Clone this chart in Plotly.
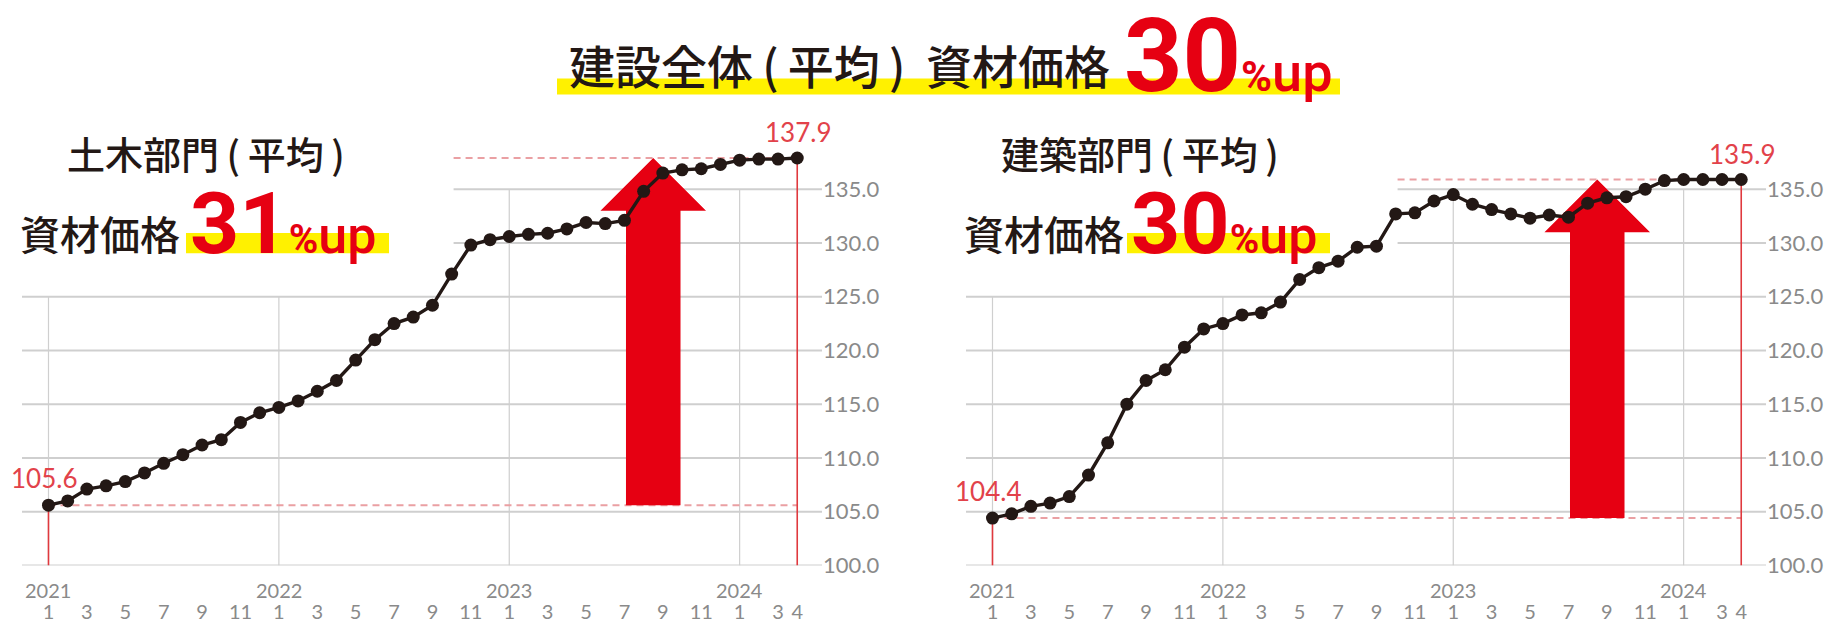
import plotly.graph_objects as go

# ---------------- data ----------------
month_index = list(range(40))  # 2021-01 ... 2024-04
civil_values = [105.6, 106.0, 107.1, 107.4, 107.8, 108.6, 109.5, 110.3, 111.2, 111.7, 113.3, 114.2,
                114.7, 115.3, 116.2, 117.2, 119.1, 121.0, 122.5, 123.1, 124.2, 127.1, 129.8, 130.3,
                130.6, 130.8, 130.9, 131.3, 131.9, 131.8, 132.1, 134.8, 136.5, 136.8, 136.9, 137.3,
                137.7, 137.8, 137.8, 137.9]
building_values = [104.4, 104.8, 105.5, 105.8, 106.4, 108.4, 111.4, 115.0, 117.2, 118.2, 120.3, 122.0,
                   122.5, 123.3, 123.5, 124.5, 126.6, 127.7, 128.3, 129.6, 129.7, 132.7, 132.8, 133.9,
                   134.5, 133.6, 133.1, 132.7, 132.3, 132.6, 132.4, 133.7, 134.2, 134.3, 135.0, 135.8,
                   135.9, 135.9, 135.9, 135.9]
month_tick_idx = [0, 2, 4, 6, 8, 10, 12, 14, 16, 18, 20, 22, 24, 26, 28, 30, 32, 34, 36, 38, 39]
month_tick_text = ["1", "3", "5", "7", "9", "11", "1", "3", "5", "7", "9", "11",
                   "1", "3", "5", "7", "9", "11", "1", "3", "4"]
year_idx = [0, 12, 24, 36]
year_text = ["2021", "2022", "2023", "2024"]
y_tick_vals = [100, 105, 110, 115, 120, 125, 130, 135]
y_tick_text = ["100.0", "105.0", "110.0", "115.0", "120.0", "125.0", "130.0", "135.0"]

title_main = "建設全体\u2009(\u2009平均\u2009)&nbsp;&nbsp;資材価格"
title_pct = "30"
civil_title = "土木部門\u2009(\u2009平均\u2009)"
civil_pct = "31"
building_title = "建築部門\u2009(\u2009平均\u2009)"
building_pct = "30"
label_price = "資材価格"

# ---------------- style ----------------
W = 1847
REF_H = 623     # height of the target picture (positions below are given in its pixels)
FIG_H = 639     # layout height: the page photo is squeezed from 639 to 623 px
BLACK = "#231815"
RED = "#e60012"
RED_LINE = "#e0393e"
RED_TEXT = "#e2424a"
DASH = "#eaa0a3"
GRID = "#cfcfcf"
GRAY = "#8a8a8a"
YELLOW = "#fff100"
NUM_FONT = "Lato"
CJK = "Noto Sans CJK JP"
BIG = "Roboto"

XMIN, XMAX = -1.38, 40.29
YMIN, YMAX = 100, 142


def PX(x):
    return x / W


def PY(y):
    return 1 - y / REF_H


fig = go.Figure()
shapes = []
annotations = []


def panel(values, xa, ya, xdom, arrow_center=31.5):
    xref, yref = xa, ya
    axis_key = "xaxis" + xa[1:]
    yaxis_key = "yaxis" + ya[1:]
    for v in y_tick_vals:
        x0 = XMIN if v <= 125 else 21.1
        shapes.append(dict(type="line", xref=xref, yref=yref, x0=x0, x1=XMAX, y0=v, y1=v,
                           line=dict(color=GRID, width=2), layer="below"))
    for i in year_idx:
        top = 125 if i < 24 else 135
        shapes.append(dict(type="line", xref=xref, yref=yref, x0=i, x1=i, y0=YMIN, y1=top,
                           line=dict(color=GRID, width=1.2), layer="below"))
    first, last = values[0], values[-1]
    i0, i1 = month_index[0], month_index[-1]
    shapes.append(dict(type="line", xref=xref, yref=yref, x0=i0, x1=i1, y0=first, y1=first,
                       line=dict(color=DASH, width=2, dash="7px,5px"), layer="below"))
    shapes.append(dict(type="line", xref=xref, yref=yref, x0=21.1, x1=i1, y0=last, y1=last,
                       line=dict(color=DASH, width=2, dash="7px,5px"), layer="below"))
    shapes.append(dict(type="line", xref=xref, yref=yref, x0=i0, x1=i0, y0=YMIN, y1=first,
                       line=dict(color=RED_LINE, width=1.6), layer="below"))
    shapes.append(dict(type="line", xref=xref, yref=yref, x0=i1, x1=i1, y0=YMIN, y1=last,
                       line=dict(color=RED_LINE, width=1.6), layer="below"))
    c, sw, hw, hh = arrow_center, 1.42, 2.75, 4.9
    ax = [c - sw, c + sw, c + sw, c + hw, c, c - hw, c - sw, c - sw]
    ay = [first, first, last - hh, last - hh, last, last - hh, last - hh, first]
    fig.add_trace(go.Scatter(x=ax, y=ay, mode="lines", fill="toself", fillcolor=RED,
                             line=dict(width=0, color=RED), xaxis=xa, yaxis=ya,
                             hoverinfo="skip", showlegend=False))
    fig.add_trace(go.Scatter(x=month_index, y=values, mode="lines+markers",
                             line=dict(color=BLACK, width=3.4),
                             marker=dict(color=BLACK, size=13),
                             xaxis=xa, yaxis=ya, showlegend=False))
    annotations.append(dict(x=i0, y=first, xref=xref, yref=yref, text=f"{first:.1f}",
                            showarrow=False, yshift=27, xshift=-4,
                            font=dict(family=NUM_FONT, size=26, color=RED_TEXT)))
    annotations.append(dict(x=i1, y=last, xref=xref, yref=yref, text=f"{last:.1f}",
                            showarrow=False, yshift=26, xshift=1,
                            font=dict(family=NUM_FONT, size=26, color=RED_TEXT)))
    for i, t in zip(year_idx, year_text):
        annotations.append(dict(x=i, y=PY(587), xref=xref, yref="paper", text=t,
                                showarrow=False, yanchor="middle",
                                font=dict(family=NUM_FONT, size=20, color=GRAY)))
    fig.update_layout(**{
        axis_key: dict(domain=xdom, range=[XMIN, XMAX], showgrid=False, zeroline=False,
                       showline=False, tickvals=month_tick_idx, ticktext=month_tick_text,
                       tickfont=dict(family=NUM_FONT, size=20, color=GRAY),
                       ticklabelstandoff=33, anchor=ya, fixedrange=True),
        yaxis_key: dict(domain=[PY(562.7), PY(113.4)], range=[YMIN, YMAX], side="right",
                        anchor=xa, showgrid=False, zeroline=False, showline=False,
                        tickvals=y_tick_vals, ticktext=y_tick_text,
                        tickfont=dict(family=NUM_FONT, size=22, color=GRAY),
                        ticklabelstandoff=0, fixedrange=True),
    })


panel(civil_values, "x", "y", [PX(22), PX(822)])
panel(building_values, "x2", "y2", [PX(966), PX(1766)])


def pct_html(num, num_size, pct_size, up_size):
    return (f'<span style="font-family:{BIG};font-size:{num_size}px;font-weight:bold;color:{RED}">{num}</span>'
            f'<span style="font-family:{BIG};font-size:{pct_size}px;font-weight:bold;color:{RED}">%</span>'
            f'<span style="font-family:{BIG};font-size:{up_size}px;font-weight:500;color:{RED}">up</span>')


def text_at(x, y_bottom, text, size, family=CJK, weight=500, color=BLACK):
    annotations.append(dict(x=PX(x), y=PY(y_bottom), xref="paper", yref="paper", xanchor="left",
                            yanchor="bottom", showarrow=False, text=text,
                            font=dict(family=family, size=size, color=color, weight=weight)))


# yellow highlight bars
for x0, x1, y0, y1 in [(557, 1340, 78, 94), (186, 389, 232, 252), (1127, 1330, 232, 252)]:
    shapes.append(dict(type="rect", xref="paper", yref="paper", x0=PX(x0), x1=PX(x1),
                       y0=PY(y1), y1=PY(y0), fillcolor=YELLOW, line=dict(width=0), layer="below"))

# title
text_at(567, 98.5, title_main, 46)
text_at(1122, 117, pct_html(title_pct, 102, 42, 54), 40, family=BIG)
# panel headings and sub-lines
for x_head, x_line2, x_pct, head, pct in [(65, 17.5, 187.5, civil_title, civil_pct),
                                          (999, 961.5, 1129, building_title, building_pct)]:
    text_at(x_head, 181, head, 38)
    text_at(x_line2, 263, label_price, 40)
    text_at(x_pct, 275, pct_html(pct, 86, 40, 52), 38, family=BIG)

fig.update_layout(width=W, height=FIG_H, margin=dict(l=0, r=0, t=0, b=0),
                  paper_bgcolor="white", plot_bgcolor="white",
                  shapes=shapes, annotations=annotations, showlegend=False)

fig.write_html(
    "out.html",
    config={"displayModeBar": False, "responsive": False},
    post_script="document.body.style.margin='0';document.body.style.overflow='hidden';",
)
